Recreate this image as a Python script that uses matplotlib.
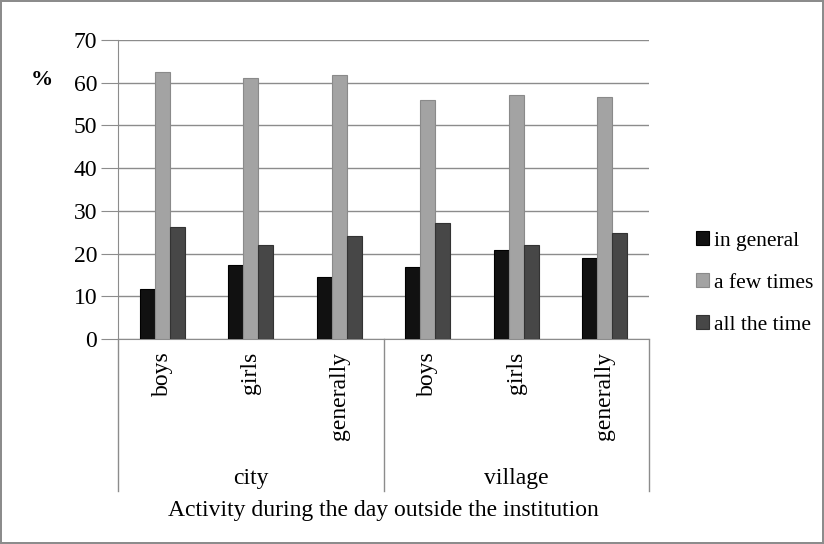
import matplotlib.pyplot as plt
import numpy as np
from matplotlib.lines import Line2D

plt.rcParams['font.family'] = ['Liberation Serif', 'DejaVu Serif']

# Dados
groups = ['city', 'village']
subcats = ['boys', 'girls', 'generally', 'boys', 'girls', 'generally']
series = ['in general', 'a few times', 'all the time']
in_general = [11.6, 17.3, 14.5, 16.9, 20.9, 19.0]
a_few_times = [62.4, 61.0, 61.7, 56.0, 57.1, 56.7]
all_the_time = [26.2, 22.0, 24.2, 27.2, 21.9, 24.7]
yticks = [0, 10, 20, 30, 40, 50, 60, 70]

colors = ['#111111', '#a3a3a3', '#474747']
edges = ['#000000', '#8a8a8a', '#333333']
fs = 17

fig = plt.figure(figsize=(8.24, 5.44), dpi=100)
fig.patch.set_edgecolor('#8c8c8c')
fig.patch.set_linewidth(1.5)
ax = fig.add_axes([118 / 824, 1 - 339 / 544, 531 / 824, 299 / 544])

x = np.arange(len(subcats))
w = 0.17
for i, vals in enumerate([in_general, a_few_times, all_the_time]):
    ax.bar(x + (i - 1) * w, vals, width=w, color=colors[i], edgecolor=edges[i],
           linewidth=0.8, label=series[i], zorder=3)

ax.set_xlim(-0.5, 5.5)
ax.set_ylim(0, 70)
ax.set_yticks(yticks)
ax.yaxis.grid(True, color='#8c8c8c', linewidth=1, zorder=0)
for s in ['top', 'right']:
    ax.spines[s].set_visible(False)
ax.spines['left'].set_color('#8c8c8c')
ax.spines['bottom'].set_color('#8c8c8c')
ax.tick_params(axis='y', length=12, color='#8c8c8c', labelsize=fs, pad=3)
ax.set_xticks(x)
ax.set_xticklabels(subcats, rotation=90, va='top', fontsize=fs)
ax.tick_params(axis='x', length=0, pad=9)

# linhas separadoras do eixo em dois níveis
tr = ax.get_xaxis_transform()
for xv in [-0.5, 2.5, 5.5]:
    ax.add_line(Line2D([xv, xv], [0, -0.51], transform=tr, color='#8c8c8c',
                       linewidth=1, clip_on=False))
ax.text(1, -0.465, groups[0], transform=tr, ha='center', va='center', fontsize=fs)
ax.text(4, -0.465, groups[1], transform=tr, ha='center', va='center', fontsize=fs)
ax.text(2.5, -0.575, 'Activity during the day outside the institution', transform=tr,
        ha='center', va='center', fontsize=fs)

fig.text(42 / 824, 1 - 80 / 544, '%', fontsize=16, fontweight='bold', ha='center', va='center')

fig.legend(loc='center left', bbox_to_anchor=(685 / 824, 1 - 283 / 544), frameon=False,
           fontsize=15.5, handlelength=0.6, handleheight=0.6, handletextpad=0.25,
           labelspacing=1.05, borderpad=0)

plt.savefig('out.png', dpi=100)
